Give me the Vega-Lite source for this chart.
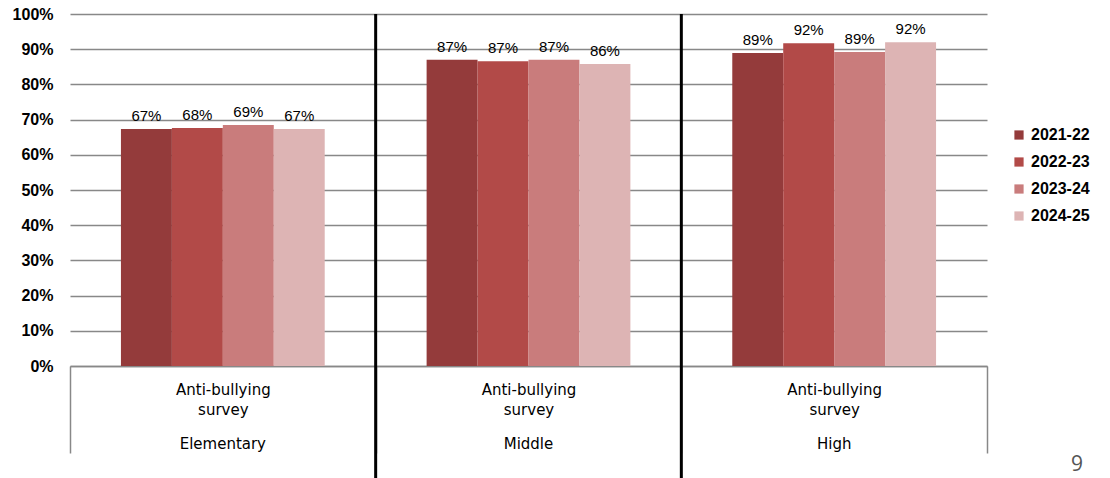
{
  "$schema": "https://vega.github.io/schema/vega-lite/v6.json",
  "width": 917,
  "height": 352,
  "autosize": "none",
  "padding": {"left": 70, "top": 14, "right": 123, "bottom": 112},
  "background": "white",
  "config": {"view": {"stroke": null}, "font": "Liberation Sans"},
  "title": {"text": "9", "orient": "bottom", "anchor": "end", "frame": "group", "dx": 96, "offset": -26, "fontSize": 21, "fontWeight": "normal", "color": "#555555", "font": "Open Sans"},
  "data": {"values": [
    {"group": "Elementary", "year": "2021-22", "value": 0.673},
    {"group": "Elementary", "year": "2022-23", "value": 0.676},
    {"group": "Elementary", "year": "2023-24", "value": 0.685},
    {"group": "Elementary", "year": "2024-25", "value": 0.673},
    {"group": "Middle", "year": "2021-22", "value": 0.870},
    {"group": "Middle", "year": "2022-23", "value": 0.866},
    {"group": "Middle", "year": "2023-24", "value": 0.870},
    {"group": "Middle", "year": "2024-25", "value": 0.858},
    {"group": "High", "year": "2021-22", "value": 0.889},
    {"group": "High", "year": "2022-23", "value": 0.917},
    {"group": "High", "year": "2023-24", "value": 0.892},
    {"group": "High", "year": "2024-25", "value": 0.920}
  ]},
  "resolve": {"axis": {"x": "independent"}},
  "layer": [
    {
      "encoding": {
        "x": {"field": "group", "type": "nominal", "sort": ["Elementary", "Middle", "High"],
              "scale": {"paddingInner": 0, "paddingOuter": 0},
              "axis": {"title": null, "orient": "bottom", "labelAngle": 0, "domainColor": "#888888", "domainWidth": 1.5,
                       "tickBand": "extent", "ticks": true, "tickSize": 87, "tickColor": "#888888", "tickWidth": 1.5,
                       "labelExpr": "datum.label ? ['Anti-bullying', 'survey'] : ''", "labelFont": "DejaVu Sans", "labelFontSize": 15, "labelLineHeight": 20,
                       "labelBaseline": "top", "labelPadding": -71, "labelColor": "black", "grid": false, "labelOverlap": false}},
        "xOffset": {"field": "year", "type": "nominal", "scale": {"paddingInner": 0, "paddingOuter": 1.09}},
        "y": {"field": "value", "type": "quantitative", "scale": {"domain": [0, 1]},
              "axis": {"title": null, "format": ".0%", "values": [0, 0.1, 0.2, 0.3, 0.4, 0.5, 0.6, 0.7, 0.8, 0.9, 1],
                       "grid": true, "gridColor": "#888888", "gridWidth": 1.5, "domain": false, "ticks": false, "labelOverlap": false,
                       "labelFontSize": 16, "labelFontWeight": "bold", "labelColor": "black", "labelPadding": 17}}
      },
      "layer": [
        {
          "mark": {"type": "bar"},
          "encoding": {
            "color": {"field": "year", "type": "nominal",
                      "scale": {"domain": ["2021-22", "2022-23", "2023-24", "2024-25"], "range": ["#943B3B", "#B24A48", "#C97C7C", "#DDB4B4"]},
                      "legend": {"title": null, "orient": "none", "legendX": 941, "legendY": 113, "symbolType": "square", "symbolSize": 85,
                                 "symbolStrokeWidth": 0, "labelFontSize": 16, "labelFontWeight": "bold", "labelColor": "black", "rowPadding": 11}}
          }
        },
        {
          "mark": {"type": "text", "dy": -13, "fontSize": 15, "color": "black"},
          "encoding": {
            "text": {"field": "value", "type": "quantitative", "format": ".0%"}
          }
        }
      ]
    },
    {
      "data": {"values": [{"group": "Elementary"}, {"group": "Middle"}]},
      "mark": {"type": "rule", "strokeWidth": 3, "color": "black"},
      "encoding": {
        "x": {"field": "group", "type": "nominal", "sort": ["Elementary", "Middle", "High"], "bandPosition": 1,
              "axis": {"title": null, "orient": "bottom", "labelAngle": 0, "domain": false, "ticks": false, "grid": false,
                       "labelFont": "DejaVu Sans", "labelFontSize": 15, "labelBaseline": "top", "labelPadding": 70,
                       "labelColor": "black", "labelOverlap": false}},
        "y": {"datum": 1, "type": "quantitative",
              "axis": {"title": null, "format": ".0%", "values": [0, 0.1, 0.2, 0.3, 0.4, 0.5, 0.6, 0.7, 0.8, 0.9, 1],
                       "grid": true, "gridColor": "#888888", "gridWidth": 1.5, "domain": false, "ticks": false, "labelOverlap": false,
                       "labelFontSize": 16, "labelFontWeight": "bold", "labelColor": "black", "labelPadding": 17}},
        "y2": {"datum": -0.32}
      }
    }
  ]
}
